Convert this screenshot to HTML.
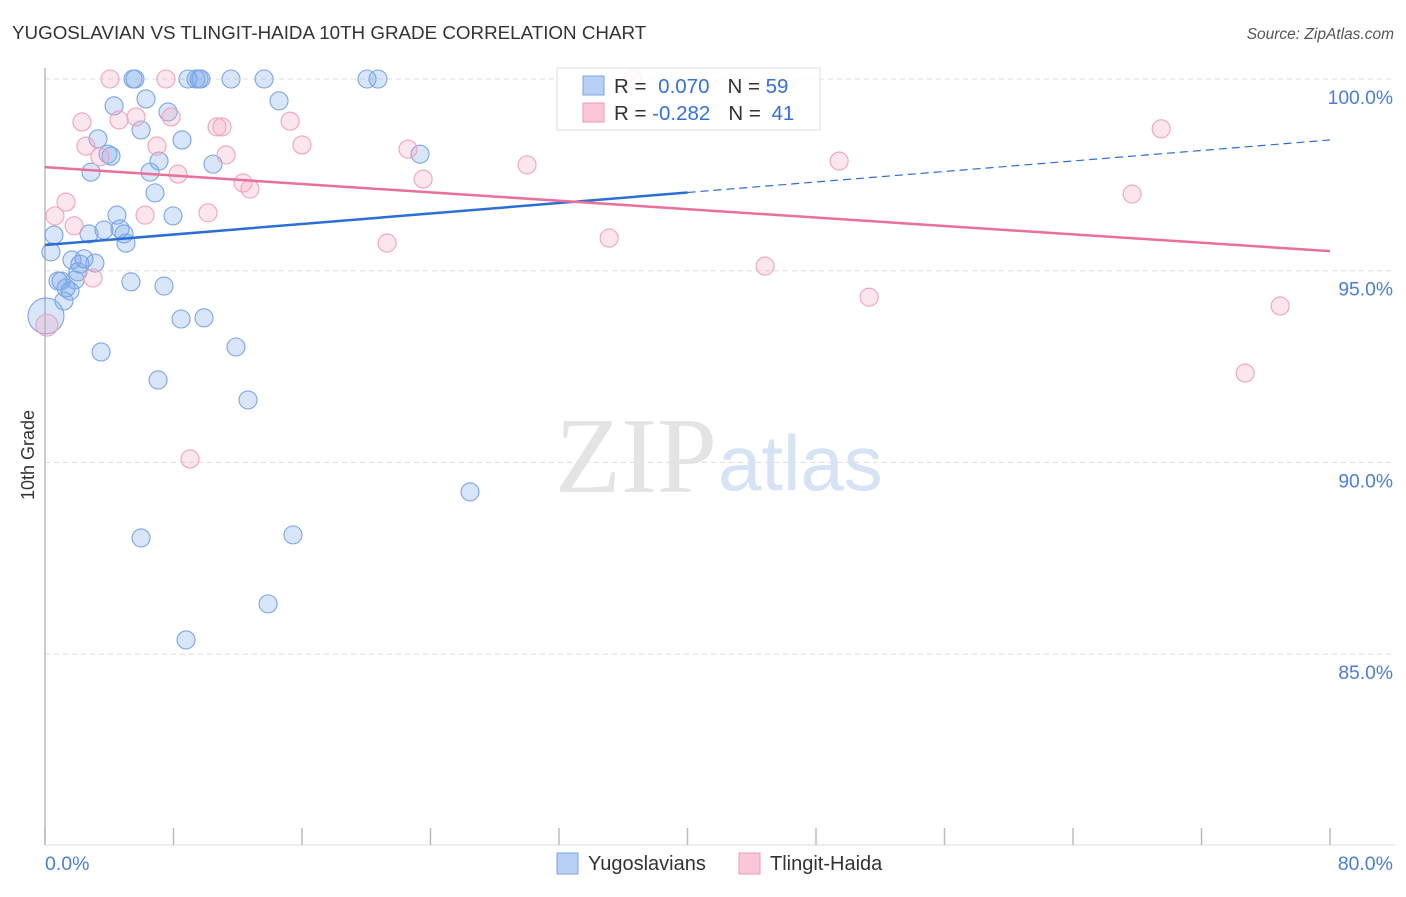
<!DOCTYPE html>
<html><head><meta charset="utf-8"><style>
body{margin:0;background:#fff;font-family:"Liberation Sans",sans-serif}
svg text{font-family:"Liberation Sans",sans-serif}
</style></head><body>
<svg width="1406" height="892" viewBox="0 0 1406 892">
<text x="12" y="39" font-size="18.8" fill="#333">YUGOSLAVIAN VS TLINGIT-HAIDA 10TH GRADE CORRELATION CHART</text>
<text x="1394" y="39" font-size="15.5" fill="#555" text-anchor="end" font-style="italic">Source: ZipAtlas.com</text>
<g id="grid"></g>
<text x="555" y="492" font-size="108" fill="#e4e4e4" font-family="Liberation Serif" style="font-family:'Liberation Serif',serif">ZIP</text>
<text x="718" y="490" font-size="78" fill="#d6e3f5">atlas</text>
<line x1="45" y1="68" x2="45" y2="845" stroke="#bbb" stroke-width="1.5"/>
<line x1="45" y1="845" x2="1395" y2="845" stroke="#ddd" stroke-width="1"/>
<g id="xticks"></g>
<g id="ylabels"></g>
<g id="points"></g>
<g id="trends"></g>
<text transform="translate(34,455) rotate(-90)" font-size="18" fill="#333" text-anchor="middle">10th Grade</text>
<text x="45" y="870" font-size="19.5" fill="#4a7fd4">0.0%</text>
<text x="1393" y="870" font-size="19.5" fill="#4a7fd4" text-anchor="end">80.0%</text>
<g>
<rect x="557" y="68" width="263" height="62" fill="#fff" fill-opacity="0.85" stroke="#ddd"/>
<rect x="583" y="76" width="21" height="19" fill="#b7d0f3" stroke="#7aa5e6"/>
<rect x="583" y="103" width="21" height="19" fill="#f9c7d6" stroke="#ef9ab5"/>
<text x="614" y="93" font-size="20.5" fill="#333">R = <tspan fill="#3570d4" dx="6">0.070</tspan><tspan fill="#333" dx="18">N = </tspan><tspan fill="#3570d4">59</tspan></text>
<text x="614" y="120" font-size="20.5" fill="#333">R = <tspan fill="#3570d4">-0.282</tspan><tspan fill="#333" dx="18">N = </tspan><tspan fill="#3570d4" dx="5">41</tspan></text>
</g>
<g>
<rect x="557" y="853" width="21" height="21" fill="#b7d0f3" stroke="#7aa5e6"/>
<text x="588" y="870" font-size="20" fill="#333">Yugoslavians</text></g>
<g>
<rect x="739" y="853" width="21" height="21" fill="#f9c7d6" stroke="#ef9ab5"/>
<text x="770" y="870" font-size="20" fill="#333">Tlingit-Haida</text></g>
</svg>
<script>
const yTicks=[100,95,90,85];
const yTickLabels=["100.0%","95.0%","90.0%","85.0%"];
const xTicks=[0,8,16,24,32,40,48,56,64,72,80];
const blueX=[5.48,5.6,8.9,9.4,9.59,9.71,11.58,13.64,20.05,20.73,4.3,6.29,14.57,7.66,5.98,3.3,8.53,3.92,4.11,23.35,10.46,7.1,2.86,6.54,6.85,4.48,7.97,0.56,2.74,3.67,4.67,4.92,5.04,0.37,1.68,2.43,3.11,2.05,0.81,5.35,7.41,1.31,1.56,1.18,0.06,8.47,9.9,3.49,11.89,7.04,12.64,26.46,5.98,15.44,13.89,8.78,2.18,1.0,1.87];
const blueY=[100,100,100,100,100,100,100,100,100,100,99.3,99.48,99.43,99.14,98.67,98.44,98.41,98.04,97.99,98.04,97.78,97.86,97.57,97.57,97.03,96.45,96.43,95.93,95.96,96.06,96.09,95.96,95.72,95.49,95.28,95.31,95.2,94.97,94.73,94.71,94.6,94.55,94.47,94.21,93.82,93.74,93.77,92.88,93.01,92.15,91.63,89.23,88.03,88.11,86.31,85.37,95.17,94.73,94.76];
const pinkX=[4.05,7.53,36.61,2.3,4.61,5.67,7.85,10.71,11.02,15.26,2.55,6.97,16.0,3.42,11.27,22.6,30.01,49.44,69.49,8.28,12.33,12.76,23.54,1.31,67.68,0.62,6.23,10.15,1.81,21.3,35.12,44.83,2.99,51.31,76.9,0.12,74.72,9.03];
const pinkY=[100,100,100,98.88,98.93,99.01,99.01,98.75,98.75,98.9,98.25,98.25,98.28,97.97,98.02,98.17,97.76,97.86,98.7,97.52,97.29,97.13,97.39,96.79,97.0,96.43,96.45,96.51,96.17,95.72,95.85,95.12,94.81,94.31,94.08,93.58,92.33,90.09];
const blueTrend=[95.67,98.41];
const pinkTrend=[97.70,95.51];
const blueSolidEnd=40;
const NS="http://www.w3.org/2000/svg";
const X=v=>45+v/80*1285, Y=v=>79+(100-v)*38.34;
function mk(t,a,p){const e=document.createElementNS(NS,t);for(const k in a)e.setAttribute(k,a[k]);p.appendChild(e);return e;}
const g=document.getElementById('grid');
yTicks.forEach((t,i)=>{const l=mk('line',{x1:45,x2:1395,y1:Y(t),y2:Y(t),stroke:'#ddd','stroke-dasharray':'5,4'},g);


const tx=mk('text',{x:1393,y:Y(t)+25,'font-size':19.3,fill:'#4a7fd4','text-anchor':'end'},document.getElementById('ylabels'));
tx.textContent=yTickLabels[i];

});
xTicks.forEach(t=>{const l=mk('line',{x1:X(t),x2:X(t),y1:828,y2:845,stroke:'#bbb','stroke-width':1.5},document.getElementById('xticks'));

});
const pg=document.getElementById('points');
blueX.forEach((x,i)=>{const r=i===44?18:9;const c=mk('circle',{cx:X(x),cy:Y(blueY[i]),r:r,fill:'rgba(120,165,235,0.28)',stroke:'#7aa5e6','stroke-width':1.1},pg);

});
pinkX.forEach((x,i)=>{const r=i===35?11:9;const c=mk('circle',{cx:X(x),cy:Y(pinkY[i]),r:r,fill:'rgba(245,165,195,0.28)',stroke:'#eea3bb','stroke-width':1.1},pg);

});
const tg=document.getElementById('trends');
const by=v=>blueTrend[0]+(blueTrend[1]-blueTrend[0])*v/80;
let l1=mk('line',{x1:X(0),y1:Y(by(0)),x2:X(blueSolidEnd),y2:Y(by(blueSolidEnd)),stroke:'#2a6fd6','stroke-width':2.5},tg);


let l2=mk('line',{x1:X(blueSolidEnd),y1:Y(by(blueSolidEnd)),x2:X(80),y2:Y(by(80)),stroke:'#2a6fd6','stroke-width':1.2,'stroke-dasharray':'8,5'},tg);


let l3=mk('line',{x1:X(0),y1:Y(pinkTrend[0]),x2:X(80),y2:Y(pinkTrend[1]),stroke:'#e8709a','stroke-width':2.5},tg);


</script>
</body></html>
